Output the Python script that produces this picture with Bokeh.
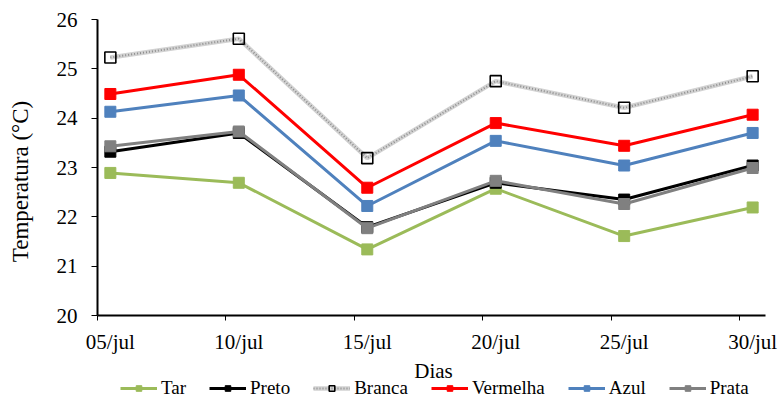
import math
from bokeh.plotting import figure
from bokeh.models import FixedTicker, Legend, LegendItem, Range1d, Label
from bokeh.embed import file_html
from bokeh.resources import INLINE

days = [5, 10, 15, 20, 25, 30]
day_labels = ["05/jul", "10/jul", "15/jul", "20/jul", "25/jul", "30/jul"]

tar = [22.89, 22.69, 21.34, 22.57, 21.61, 22.19]
preto = [23.32, 23.70, 21.79, 22.69, 22.35, 23.04]
branca = [25.23, 25.61, 23.19, 24.75, 24.21, 24.85]
vermelha = [24.49, 24.88, 22.59, 23.90, 23.44, 24.07]
azul = [24.13, 24.46, 22.22, 23.54, 23.04, 23.70]
prata = [23.43, 23.73, 21.77, 22.73, 22.26, 22.99]

y_ticks = [20, 21, 22, 23, 24, 25, 26]

FONT = "Liberation Serif"
W, H = 781, 410

# each date occupies a one-day slot; points sit at the slot centre
x = [d + 0.5 for d in days]
x_start, x_end = days[0], days[-1] + 1

# axis box in page pixels; the drawing area covers the whole canvas so that
# axis texts and legend are never cut off
left_px, right_px, top_px, axis_px = 97, 765, 19, 315
ppx = (right_px - left_px) / (x_end - x_start)
ppu = (axis_px - top_px) / (y_ticks[-1] - y_ticks[0])

def dx(px):
    return x_start + (px - left_px) / ppx

def dy(py):
    return y_ticks[0] + (axis_px - py) / ppu

p = figure(width=W, height=H, output_backend="svg", toolbar_location=None,
           x_range=Range1d(dx(0), dx(W)), y_range=Range1d(dy(H), dy(0)),
           min_border=0)
p.outline_line_color = None
p.grid.visible = False
p.background_fill_color = "white"
p.border_fill_color = "white"

# x axis, pinned at y = 20
p.xaxis.fixed_location = y_ticks[0]
p.xaxis.bounds = (x_start, x_end)
p.xaxis.ticker = FixedTicker(ticks=x, minor_ticks=days)
p.xaxis.major_label_overrides = {xv: lab for xv, lab in zip(x, day_labels)}
p.xaxis.major_tick_line_color = None
p.xaxis.major_tick_out = 5
p.xaxis.major_tick_in = 0
p.xaxis.minor_tick_line_color = "black"
p.xaxis.minor_tick_out = 5
p.xaxis.minor_tick_in = 0
p.xaxis.minor_tick_line_width = 1
p.xaxis.major_label_standoff = 9

# y axis, pinned at x = 05/jul
p.yaxis.fixed_location = x_start
p.yaxis.bounds = (y_ticks[0], y_ticks[-1])
p.yaxis.ticker = FixedTicker(ticks=y_ticks)
p.yaxis.minor_tick_line_color = None
p.yaxis.major_tick_out = 6
p.yaxis.major_tick_in = 0
p.yaxis.major_label_standoff = 14

for ax in (p.xaxis, p.yaxis):
    ax.axis_line_color = "black"
    ax.axis_line_width = 2
    ax.major_tick_line_width = 1
    ax.major_label_text_font = FONT
    ax.major_label_text_font_size = "21px"
    ax.major_label_text_color = "black"

# axis titles
p.add_layout(Label(x=dx(433), y=dy(370), text="Dias", text_font=FONT,
                   text_font_size="21px", text_align="center", text_baseline="middle",
                   text_color="black"))
p.add_layout(Label(x=dx(20), y=dy(181), text="Temperatura (°C)", text_font=FONT,
                   text_font_size="23px", text_align="center", text_baseline="middle",
                   angle=math.pi / 2, text_color="black"))

items = []

def series(vals, color, name):
    l = p.line(x, vals, line_color=color, line_width=3)
    m = p.scatter(x, vals, marker="square", size=11, fill_color=color, line_color=color)
    items.append(LegendItem(label=name, renderers=[l, m]))

series(tar, "#9BBB59", "Tar")
series(preto, "black", "Preto")

lb1 = p.line(x, branca, line_color="#d2d2d2", line_width=4.5)
lb2 = p.line(x, branca, line_color="#8e8e8e", line_width=2, line_dash="1 2")
mb = p.scatter(x, branca, marker="square", size=11, fill_color=None, line_color="black", line_width=1.6)
items.append(LegendItem(label="Branca", renderers=[lb1, lb2, mb]))

series(vermelha, "#FF0000", "Vermelha")
series(azul, "#4F81BD", "Azul")
series(prata, "#808080", "Prata")

legend = Legend(items=items, orientation="horizontal", location=(120, 11),
                glyph_width=37, glyph_height=14, label_standoff=4, spacing=23,
                padding=0, margin=0, border_line_color=None, background_fill_alpha=0,
                label_text_font=FONT, label_text_font_size="19px", label_text_color="black")
p.add_layout(legend, "center")

open("out.html", "w").write(file_html(p, INLINE))
